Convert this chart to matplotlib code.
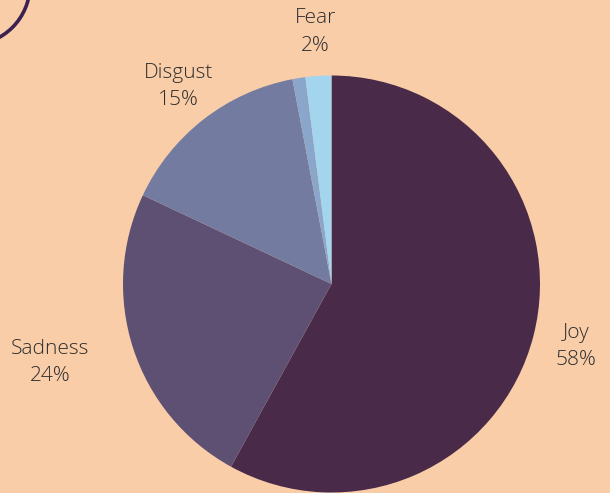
import numpy as np
import matplotlib.pyplot as plt
from matplotlib.patches import Ellipse

EMOTIONS = ["Joy", "Sadness", "Disgust", "", "Fear"]
SHARES = [58, 24, 15, 1, 2]
COLORS = ["#4a2a49", "#5e5072", "#737ba1", "#8aa6cb", "#a4d5ef"]
# label placement: distance in pie radii and horizontal anchor
LABEL_DIST = [1.21, 1.22, 1.20, None, 1.21]
LABEL_HA = ["center", "right", "center", None, "center"]

BG = "#f9cda8"
W, H = 610, 493
CX, CY, R = 331.5, H - 284, 208.5

plt.rcParams["font.family"] = ["Open Sans", "DejaVu Sans"]

fig = plt.figure(figsize=(W / 100, H / 100), dpi=100, facecolor=BG)
ax = fig.add_axes([0, 0, 1, 1])
ax.set_facecolor(BG)

wedges, _ = ax.pie(
    SHARES,
    colors=COLORS,
    startangle=90,
    counterclock=False,
    center=(CX, CY),
    radius=R,
    wedgeprops=dict(linewidth=0),
)

for w, name, share, dist, ha in zip(wedges, EMOTIONS, SHARES, LABEL_DIST, LABEL_HA):
    if not name:
        continue
    mid = np.deg2rad((w.theta1 + w.theta2) / 2)
    x = CX + dist * R * np.cos(mid)
    y = CY + dist * R * np.sin(mid)
    ax.text(x, y, f"{name}\n{share}%", ha=ha, va="center", multialignment="center",
            fontsize=15, fontweight="light", color="#2e2e2e",
            linespacing=1.5)

# corner of the framed panel peeking in at the top left
ax.add_patch(Ellipse((-30, H + 15), 120, 120, fill=False,
                     edgecolor="#3b2150", linewidth=2.6, clip_on=True))

ax.set_xlim(0, W)
ax.set_ylim(0, H)
ax.set_aspect("equal")
ax.axis("off")

fig.savefig("out.png", dpi=100, facecolor=BG)
